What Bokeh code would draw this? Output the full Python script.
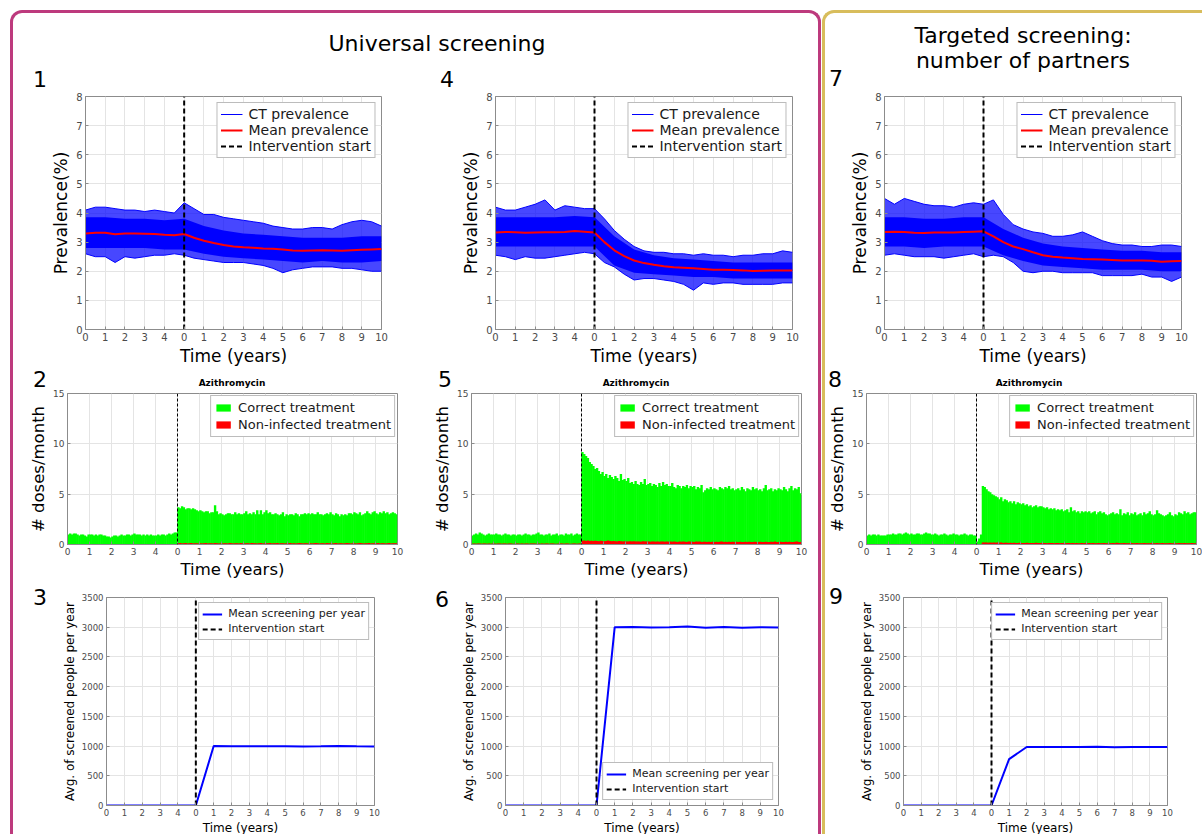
from bokeh.plotting import figure
from bokeh.models import Range1d, FixedTicker, Span, Legend, LegendItem, Div
from bokeh.layouts import row, column
from bokeh.embed import file_html
from bokeh.resources import INLINE

FONT = "DejaVu Sans"
AX = "#8c8c8c"
TL = "#4a4a4a"
GRID = "#e4e4e4"
BLUE = "#0000ff"
RED = "#ff0000"
GREEN = "#00ff00"
MAGENTA = "#bd3a7d"
GOLD = "#d8bd5c"

# ---------------- data ----------------
tick_pos = [-5, -4, -3, -2, -1, 0, 1, 2, 3, 4, 5, 6, 7, 8, 9, 10]
tick_labels = ["0", "1", "2", "3", "4", "0", "1", "2", "3", "4", "5", "6", "7", "8", "9", "10"]
intervention_t = 0

# prevalence panels: time grid (half years) and yearly grid
t_half = [-5, -4.5, -4, -3.5, -3, -2.5, -2, -1.5, -1, -0.5, 0, 0.5, 1, 1.5, 2, 2.5,
          3, 3.5, 4, 4.5, 5, 5.5, 6, 6.5, 7, 7.5, 8, 8.5, 9, 9.5, 10]
t_year = [-5, -4, -3, -2, -1, 0, 1, 2, 3, 4, 5, 6, 7, 8, 9, 10]

prev1_mean = [3.30, 3.32, 3.32, 3.27, 3.30, 3.30, 3.29, 3.28, 3.25, 3.24, 3.28, 3.15, 3.05, 2.97, 2.90, 2.85,
              2.82, 2.81, 2.78, 2.77, 2.75, 2.71, 2.70, 2.71, 2.72, 2.71, 2.70, 2.72, 2.74, 2.75, 2.76]
prev1_max = [4.10, 4.20, 4.20, 4.15, 4.10, 4.10, 4.05, 4.10, 4.05, 4.00, 4.35, 4.15, 3.95, 3.95, 3.85, 3.80,
             3.75, 3.70, 3.65, 3.55, 3.50, 3.45, 3.45, 3.50, 3.50, 3.45, 3.60, 3.70, 3.75, 3.70, 3.55]
prev1_min = [2.60, 2.50, 2.50, 2.30, 2.50, 2.45, 2.50, 2.55, 2.55, 2.60, 2.55, 2.45, 2.40, 2.35, 2.30, 2.30,
             2.30, 2.25, 2.20, 2.10, 1.95, 2.05, 2.10, 2.15, 2.15, 2.15, 2.10, 2.10, 2.05, 2.00, 2.00]
prev1_hi = [3.85, 3.85, 3.80, 3.80, 3.75, 3.80, 3.55, 3.40, 3.30, 3.25, 3.20, 3.15, 3.15, 3.15, 3.20, 3.20]
prev1_lo = [2.80, 2.80, 2.80, 2.80, 2.75, 2.75, 2.60, 2.50, 2.45, 2.40, 2.35, 2.30, 2.35, 2.30, 2.30, 2.35]

prev4_mean = [3.33, 3.35, 3.34, 3.32, 3.33, 3.34, 3.34, 3.35, 3.38, 3.36, 3.33, 3.00, 2.72, 2.52, 2.37, 2.28,
              2.22, 2.17, 2.14, 2.12, 2.10, 2.08, 2.05, 2.05, 2.04, 2.03, 2.01, 2.02, 2.03, 2.03, 2.03]
prev4_max = [4.20, 4.10, 4.10, 4.20, 4.30, 4.45, 4.10, 4.25, 4.20, 4.15, 4.15, 3.80, 3.40, 3.10, 2.85, 2.70,
             2.65, 2.65, 2.60, 2.60, 2.55, 2.60, 2.55, 2.55, 2.50, 2.55, 2.55, 2.60, 2.60, 2.70, 2.65]
prev4_min = [2.55, 2.50, 2.40, 2.50, 2.45, 2.45, 2.50, 2.55, 2.60, 2.65, 2.60, 2.30, 2.15, 1.90, 1.70, 1.75,
             1.75, 1.70, 1.65, 1.55, 1.35, 1.60, 1.55, 1.60, 1.60, 1.55, 1.55, 1.55, 1.55, 1.60, 1.60]
prev4_hi = [3.85, 3.85, 3.85, 3.85, 3.90, 3.85, 3.20, 2.75, 2.55, 2.45, 2.40, 2.35, 2.30, 2.30, 2.30, 2.30]
prev4_lo = [2.85, 2.85, 2.85, 2.85, 2.85, 2.85, 2.20, 1.95, 1.90, 1.85, 1.80, 1.80, 1.75, 1.75, 1.75, 1.75]

prev7_mean = [3.35, 3.36, 3.35, 3.32, 3.31, 3.33, 3.33, 3.33, 3.35, 3.36, 3.37, 3.20, 3.00, 2.85, 2.76, 2.65,
              2.55, 2.50, 2.47, 2.45, 2.42, 2.41, 2.40, 2.39, 2.37, 2.37, 2.37, 2.36, 2.33, 2.34, 2.35]
prev7_max = [4.50, 4.30, 4.50, 4.40, 4.30, 4.25, 4.25, 4.20, 4.30, 4.35, 4.30, 4.45, 3.95, 3.60, 3.45, 3.35,
             3.30, 3.20, 3.20, 3.25, 3.35, 3.20, 3.05, 2.95, 2.90, 2.90, 2.85, 2.85, 2.90, 2.90, 2.85]
prev7_min = [2.55, 2.60, 2.55, 2.50, 2.50, 2.50, 2.45, 2.50, 2.55, 2.60, 2.50, 2.55, 2.50, 2.30, 2.00, 1.95,
             2.00, 2.00, 1.95, 1.95, 1.95, 1.95, 1.85, 1.85, 1.85, 1.85, 1.90, 1.80, 1.80, 1.65, 1.80]
prev7_hi = [3.85, 3.85, 3.80, 3.80, 3.85, 3.85, 3.45, 3.15, 2.95, 2.85, 2.80, 2.75, 2.70, 2.70, 2.65, 2.65]
prev7_lo = [2.85, 2.85, 2.80, 2.85, 2.85, 2.85, 2.55, 2.35, 2.20, 2.15, 2.10, 2.05, 2.05, 2.05, 2.00, 2.00]

# azithromycin doses per month (60 months before, 120 months after intervention)
months = [-5 + (i + 0.5) / 12 for i in range(180)]

dose2_correct = [
    1.0, 1.1, 1.0, 1.1, 1.1, 1.0, 0.9, 1.0, 1.0, 0.9, 0.8, 1.0,
    1.0, 1.0, 0.9, 1.0, 0.9, 1.0, 1.0, 0.9, 0.9, 0.8, 0.8, 0.7,
    0.8, 0.9, 0.9, 0.8, 0.9, 1.0, 0.9, 0.9, 1.0, 1.0, 0.9, 1.0,
    1.1, 1.0, 1.0, 1.0, 0.9, 1.0, 0.9, 1.0, 0.9, 1.0, 0.9, 0.9,
    0.9, 1.0, 0.9, 1.0, 1.0, 0.9, 1.0, 1.1, 1.0, 1.1, 1.2, 1.2,
    3.7, 3.6, 3.8, 3.7, 3.5, 3.6, 3.6, 3.5, 3.6, 3.5, 3.4, 3.3,
    3.4, 3.3, 3.2, 3.3, 3.3, 3.1, 3.2, 3.2, 3.9, 3.3, 3.0, 3.1,
    3.0, 2.9, 3.0, 3.1, 3.1, 3.0, 3.0, 3.2, 3.0, 3.1, 3.0, 3.0,
    3.1, 3.3, 3.0, 3.1, 3.0, 3.2, 3.0, 3.4, 3.0, 3.4, 3.0, 3.2,
    3.4, 3.1, 3.2, 3.0, 3.0, 3.1, 3.0, 2.9, 3.0, 3.2, 2.8, 3.0,
    2.9, 3.0, 3.0, 2.9, 3.1, 3.0, 2.8, 3.0, 3.0, 3.1, 3.0, 3.1,
    3.0, 3.1, 3.0, 3.0, 3.2, 3.0, 3.0, 2.9, 3.0, 3.1, 3.0, 3.2,
    3.0, 2.9, 3.1, 3.0, 2.8, 3.0, 2.9, 3.0, 2.9, 3.1, 3.1, 3.0,
    3.2, 3.1, 3.0, 3.2, 2.9, 3.0, 3.1, 3.3, 3.1, 3.0, 3.2, 3.3,
    3.1, 3.0, 3.2, 3.1, 3.3, 3.1, 3.2, 3.0, 3.1, 3.2, 3.1, 3.0]
dose2_noninf = [
    0.03, 0.02, 0.04, 0.03, 0.02, 0.03, 0.05, 0.03, 0.02, 0.03, 0.04, 0.02,
    0.03, 0.04, 0.02, 0.03, 0.03, 0.02, 0.04, 0.03, 0.02, 0.03, 0.05, 0.03,
    0.02, 0.03, 0.04, 0.03, 0.02, 0.03, 0.03, 0.04, 0.02, 0.03, 0.05, 0.03,
    0.04, 0.02, 0.03, 0.03, 0.02, 0.04, 0.03, 0.02, 0.03, 0.04, 0.03, 0.02,
    0.03, 0.02, 0.04, 0.03, 0.03, 0.02, 0.04, 0.03, 0.02, 0.03, 0.04, 0.03,
    0.12, 0.14, 0.10, 0.13, 0.15, 0.11, 0.12, 0.14, 0.10, 0.13, 0.12, 0.11,
    0.13, 0.10, 0.12, 0.14, 0.11, 0.13, 0.12, 0.10, 0.14, 0.12, 0.11, 0.13,
    0.10, 0.12, 0.13, 0.11, 0.14, 0.12, 0.10, 0.13, 0.12, 0.11, 0.15, 0.12,
    0.11, 0.13, 0.12, 0.10, 0.14, 0.12, 0.13, 0.11, 0.12, 0.14, 0.10, 0.12,
    0.13, 0.12, 0.15, 0.11, 0.13, 0.12, 0.14, 0.10, 0.12, 0.13, 0.11, 0.12,
    0.12, 0.14, 0.11, 0.13, 0.10, 0.12, 0.14, 0.12, 0.11, 0.13, 0.12, 0.10,
    0.13, 0.11, 0.12, 0.14, 0.12, 0.10, 0.13, 0.12, 0.11, 0.14, 0.12, 0.13,
    0.11, 0.12, 0.14, 0.10, 0.12, 0.13, 0.11, 0.12, 0.14, 0.12, 0.10, 0.13,
    0.12, 0.11, 0.13, 0.15, 0.12, 0.10, 0.13, 0.12, 0.14, 0.11, 0.12, 0.13,
    0.12, 0.14, 0.11, 0.12, 0.13, 0.10, 0.12, 0.14, 0.11, 0.13, 0.12, 0.12]

dose5_correct = [
    0.9, 1.0, 1.1, 1.0, 1.2, 1.1, 1.0, 0.9, 1.0, 1.1, 1.0, 1.0,
    1.0, 1.1, 1.0, 1.0, 0.9, 1.0, 1.1, 1.0, 1.0, 0.9, 1.0, 1.0,
    0.9, 1.0, 1.0, 0.9, 1.0, 1.1, 1.0, 1.0, 0.9, 1.0, 1.0, 1.1,
    1.2, 1.0, 1.0, 0.9, 1.0, 1.0, 1.1, 0.9, 1.0, 1.0, 1.1, 0.9,
    1.0, 1.0, 0.9, 1.1, 1.0, 1.0, 1.1, 0.9, 1.0, 1.1, 1.0, 1.0,
    9.2, 9.0, 8.8, 8.6, 8.2, 8.0, 7.8, 7.5, 7.6, 7.3, 7.0, 7.2,
    6.8, 7.0, 6.6, 6.9, 6.7, 6.5, 6.8, 6.6, 6.3, 7.0, 6.4, 6.5,
    6.3, 6.6, 6.1, 6.2, 6.0, 6.3, 6.0, 5.9, 6.2, 6.0, 6.5, 5.9,
    6.0, 6.1, 5.8, 6.0, 5.9, 5.7, 6.1, 5.8, 6.2, 5.9, 6.0, 5.8,
    5.8, 6.1, 5.7, 5.6, 5.9, 5.8, 5.6, 5.8, 5.7, 5.9, 5.6, 5.8,
    5.7, 5.8, 5.5, 5.7, 5.6, 5.9, 5.2, 5.4, 5.6, 5.5, 5.7, 5.5,
    5.6, 5.5, 5.4, 5.7, 5.6, 5.5, 5.7, 5.6, 5.8, 5.5, 5.6, 5.4,
    5.5, 5.6, 5.4, 5.7, 5.5, 5.3, 5.6, 5.5, 5.4, 5.7, 5.5, 5.6,
    5.4, 5.5, 5.3, 5.6, 5.9, 5.4, 5.5, 5.6, 5.3, 5.5, 5.4, 5.6,
    5.5, 5.4, 5.7, 5.5, 5.3, 5.6, 5.8, 5.4, 5.6, 5.5, 5.7, 5.1]
dose5_noninf = [
    0.08, 0.10, 0.07, 0.09, 0.11, 0.08, 0.10, 0.09, 0.07, 0.10, 0.08, 0.09,
    0.10, 0.08, 0.09, 0.11, 0.07, 0.09, 0.10, 0.08, 0.09, 0.10, 0.08, 0.07,
    0.09, 0.10, 0.08, 0.09, 0.07, 0.10, 0.09, 0.08, 0.10, 0.09, 0.11, 0.08,
    0.09, 0.08, 0.10, 0.07, 0.09, 0.10, 0.08, 0.09, 0.10, 0.08, 0.07, 0.09,
    0.10, 0.09, 0.08, 0.10, 0.09, 0.07, 0.08, 0.10, 0.09, 0.08, 0.10, 0.09,
    0.38, 0.40, 0.36, 0.39, 0.35, 0.37, 0.34, 0.38, 0.36, 0.33, 0.37, 0.35,
    0.33, 0.36, 0.40, 0.34, 0.32, 0.35, 0.33, 0.31, 0.34, 0.32, 0.30, 0.33,
    0.31, 0.29, 0.32, 0.30, 0.33, 0.29, 0.31, 0.30, 0.28, 0.32, 0.30, 0.29,
    0.30, 0.28, 0.31, 0.29, 0.27, 0.30, 0.28, 0.31, 0.29, 0.27, 0.30, 0.28,
    0.29, 0.27, 0.30, 0.28, 0.26, 0.29, 0.27, 0.30, 0.28, 0.26, 0.29, 0.27,
    0.28, 0.26, 0.29, 0.27, 0.30, 0.26, 0.28, 0.27, 0.25, 0.28, 0.26, 0.27,
    0.26, 0.28, 0.25, 0.27, 0.29, 0.26, 0.28, 0.25, 0.27, 0.26, 0.28, 0.25,
    0.27, 0.25, 0.28, 0.26, 0.24, 0.27, 0.25, 0.28, 0.26, 0.25, 0.27, 0.26,
    0.25, 0.27, 0.26, 0.24, 0.28, 0.26, 0.25, 0.27, 0.25, 0.29, 0.26, 0.25,
    0.27, 0.25, 0.26, 0.28, 0.25, 0.27, 0.26, 0.24, 0.27, 0.30, 0.26, 0.25]

dose8_correct = [
    0.9, 1.0, 0.9, 1.0, 1.0, 0.9, 1.0, 0.9, 0.9, 0.9, 0.9, 1.0,
    1.0, 1.0, 1.1, 1.0, 1.0, 1.1, 1.1, 1.0, 1.1, 1.2, 1.1, 1.0,
    1.1, 1.0, 1.0, 1.1, 1.1, 1.0, 1.0, 1.1, 1.2, 1.1, 1.1, 1.0,
    1.0, 1.1, 1.0, 0.9, 1.0, 1.0, 1.1, 1.0, 0.9, 1.0, 1.0, 1.1,
    1.0, 1.0, 0.9, 1.0, 1.0, 1.1, 1.0, 0.9, 1.0, 1.0, 0.9, 0.9,
    0.3, 0.6, 1.0, 5.8, 5.7, 5.5, 5.3, 5.2, 5.0, 4.9, 4.8, 4.7,
    4.5, 4.7, 4.3, 4.5, 4.4, 4.2, 4.3, 4.1, 4.3, 4.0, 4.2, 4.1,
    4.0, 4.1, 3.9, 4.0, 3.8, 3.9, 3.7, 3.8, 3.9, 3.7, 3.8, 3.8,
    3.7, 3.6, 3.7, 3.5, 3.6, 3.5, 3.6, 3.4, 3.5, 3.4, 3.5, 3.3,
    3.4, 3.5, 3.2, 3.7, 3.3, 3.4, 3.2, 3.3, 3.1, 3.3, 3.2, 3.3,
    3.2, 3.3, 3.1, 3.2, 3.3, 3.0, 3.2, 3.3, 3.1, 3.2, 3.0, 2.9,
    3.0, 3.1, 3.2, 3.0, 3.1, 3.0, 3.5, 2.9, 3.1, 3.0, 3.2, 2.9,
    3.1, 3.0, 3.2, 2.9, 3.0, 3.1, 2.9, 3.2, 3.0, 3.1, 3.3, 3.0,
    2.9, 3.0, 3.4, 3.1, 3.0, 2.9, 2.8, 2.9, 3.0, 3.2, 2.9, 2.8,
    3.0, 2.9, 3.2, 3.1, 3.0, 3.3, 3.1, 3.2, 3.0, 3.1, 3.2, 3.2]
dose8_noninf = [
    0.03, 0.04, 0.02, 0.03, 0.05, 0.03, 0.02, 0.04, 0.03, 0.02, 0.03, 0.04,
    0.03, 0.02, 0.04, 0.03, 0.03, 0.05, 0.02, 0.03, 0.04, 0.03, 0.02, 0.03,
    0.04, 0.03, 0.02, 0.03, 0.04, 0.02, 0.03, 0.05, 0.03, 0.02, 0.04, 0.03,
    0.02, 0.03, 0.04, 0.03, 0.02, 0.03, 0.05, 0.03, 0.02, 0.04, 0.03, 0.02,
    0.03, 0.04, 0.02, 0.03, 0.03, 0.05, 0.03, 0.02, 0.04, 0.03, 0.02, 0.03,
    0.02, 0.03, 0.05, 0.20, 0.19, 0.21, 0.18, 0.20, 0.17, 0.19, 0.18, 0.20,
    0.17, 0.19, 0.16, 0.18, 0.17, 0.15, 0.18, 0.16, 0.17, 0.15, 0.16, 0.18,
    0.15, 0.16, 0.14, 0.17, 0.15, 0.16, 0.14, 0.15, 0.17, 0.14, 0.15, 0.16,
    0.14, 0.15, 0.13, 0.16, 0.14, 0.15, 0.13, 0.14, 0.16, 0.13, 0.14, 0.15,
    0.13, 0.15, 0.14, 0.12, 0.15, 0.13, 0.14, 0.12, 0.13, 0.15, 0.13, 0.14,
    0.12, 0.14, 0.13, 0.15, 0.12, 0.13, 0.14, 0.12, 0.13, 0.14, 0.12, 0.13,
    0.13, 0.12, 0.14, 0.13, 0.17, 0.14, 0.12, 0.13, 0.14, 0.12, 0.13, 0.12,
    0.14, 0.12, 0.13, 0.15, 0.12, 0.13, 0.12, 0.14, 0.13, 0.12, 0.13, 0.14,
    0.12, 0.13, 0.14, 0.12, 0.13, 0.15, 0.12, 0.13, 0.12, 0.14, 0.13, 0.12,
    0.13, 0.12, 0.14, 0.13, 0.12, 0.14, 0.13, 0.12, 0.13, 0.14, 0.12, 0.13]

# mean number of screened people per year
screen_t = [-5, -4, -3, -2, -1, 0, 1, 2, 3, 4, 5, 6, 7, 8, 9, 10]
screen3 = [0, 0, 0, 0, 0, 0, 1000, 995, 995, 995, 995, 993, 995, 1003, 995, 993]
screen6 = [0, 0, 0, 0, 0, 0, 3000, 3003, 2995, 2998, 3010, 2993, 3005, 2990, 3000, 2995]
screen9 = [0, 0, 0, 0, 0, 0, 780, 985, 983, 985, 985, 987, 980, 985, 985, 985]


# ---------------- helpers ----------------
def base_fig(bl, fw, br, bt, fh, bb, ymax, yticks, tick_fs, label_fs, ylabel):
    p = figure(frame_width=fw, frame_height=fh, min_border_left=bl, min_border_right=br,
               min_border_top=bt, min_border_bottom=bb,
               x_range=Range1d(-5, 10), y_range=Range1d(0, ymax),
               output_backend="svg", toolbar_location=None, tools="")
    if "frame_align" in p.properties():
        p.frame_align = False
    p.border_fill_color = "white"
    p.background_fill_color = "white"
    p.outline_line_color = AX
    p.outline_line_width = 1
    p.xaxis.ticker = FixedTicker(ticks=tick_pos)
    p.xaxis.major_label_overrides = {tp: tl for tp, tl in zip(tick_pos, tick_labels)}
    p.yaxis.ticker = FixedTicker(ticks=yticks)
    p.xgrid.ticker = FixedTicker(ticks=tick_pos)
    p.ygrid.ticker = FixedTicker(ticks=yticks)
    for g in (p.xgrid[0], p.ygrid[0]):
        g.grid_line_color = GRID
        g.grid_line_width = 1
    for ax in (p.xaxis[0], p.yaxis[0]):
        ax.axis_line_color = AX
        ax.major_tick_line_color = AX
        ax.major_tick_in = 3
        ax.major_tick_out = 0
        ax.minor_tick_line_color = None
        ax.major_label_text_font = FONT
        ax.major_label_text_font_size = tick_fs
        ax.major_label_text_color = TL
        ax.axis_label_text_font = FONT
        ax.axis_label_text_font_size = label_fs
        ax.axis_label_text_font_style = "normal"
        ax.axis_label_text_color = "#000000"
        ax.major_label_standoff = 3
        ax.axis_label_standoff = 2
    p.xaxis.axis_label = "Time (years)"
    p.yaxis.axis_label = ylabel
    return p


def header(width, height, spans):
    inner = "".join(
        f'<span style="position:absolute;left:{x}px;top:{top}px;transform:translateX(-50%);'
        f'font-size:{fs}px;line-height:{fs}px;font-weight:{fw};white-space:nowrap;">{txt}</span>'
        for txt, x, top, fs, fw in spans)
    return Div(text=f'<div style="position:relative;width:{width}px;height:{height}px;'
                    f'font-family:\'DejaVu Sans\';color:#000;">{inner}</div>',
               width=width, height=height, margin=0)


def style_legend(leg, fs, gw, gh, lh, margin):
    leg.label_text_font = FONT
    leg.label_text_font_size = fs
    leg.label_text_color = "#1a1a1a"
    leg.glyph_width = gw
    leg.glyph_height = gh
    leg.label_height = lh
    leg.spacing = 0
    leg.padding = 3
    leg.margin = margin
    leg.label_standoff = 6
    leg.border_line_color = "#7a7a7a"
    leg.border_line_width = 1
    leg.background_fill_alpha = 1


def prevalence_panel(bl, fw, br, mean, vmax, vmin, hi, lo):
    p = base_fig(bl, fw, br, 6, 233, 39, 8, [0, 1, 2, 3, 4, 5, 6, 7, 8], "10px", "17px", "Prevalence(%)")
    p.varea(x=t_half, y1=vmin, y2=vmax, fill_color=BLUE, fill_alpha=0.72)
    p.varea(x=t_year, y1=lo, y2=hi, fill_color=BLUE, fill_alpha=1.0)
    r_ct = p.line(t_half, vmax, line_color=BLUE, line_width=1)
    p.line(t_half, vmin, line_color=BLUE, line_width=1)
    r_mean = p.line(t_half, mean, line_color=RED, line_width=2)
    r_iv = p.line([intervention_t, intervention_t], [0, 8], line_color="black", line_width=2, line_dash="5 3")
    leg = Legend(items=[LegendItem(label="CT prevalence", renderers=[r_ct]),
                        LegendItem(label="Mean prevalence", renderers=[r_mean]),
                        LegendItem(label="Intervention start", renderers=[r_iv])],
                 location="top_right")
    style_legend(leg, "14px", 22, 14, 15, 6)
    p.add_layout(leg)
    return p


def dose_panel(bl, fw, br, correct, noninf):
    p = base_fig(bl, fw, br, 5, 151, 38, 15, [0, 5, 10, 15], "9px", "16.5px", "# doses/month")
    w = 1.3 / 12
    r_g = p.vbar(x=months, top=correct, width=w, fill_color=GREEN, line_color=None)
    r_r = p.vbar(x=months, top=noninf, width=w, fill_color=RED, line_color=None)
    p.add_layout(Span(location=intervention_t, dimension="height", line_color="black",
                      line_width=1, line_dash="3 2"))
    leg = Legend(items=[LegendItem(label="Correct treatment", renderers=[r_g]),
                        LegendItem(label="Non-infected treatment", renderers=[r_r])],
                 location="top_right")
    style_legend(leg, "13px", 18, 9, 17, 2)
    p.add_layout(leg)
    return p


def screen_panel(bl, fw, br, values, loc):
    p = base_fig(bl, fw, br, 15, 208, 28, 3500, [0, 500, 1000, 1500, 2000, 2500, 3000, 3500],
                 "8.5px", "12px", "Avg. of screened people per year")
    r_m = p.line(screen_t, values, line_color=BLUE, line_width=2)
    r_iv = p.line([intervention_t, intervention_t], [0, 3500], line_color="black", line_width=2, line_dash="5 3")
    leg = Legend(items=[LegendItem(label="Mean screening per year", renderers=[r_m]),
                        LegendItem(label="Intervention start", renderers=[r_iv])],
                 location=loc)
    style_legend(leg, "11px", 20, 12, 15, 5)
    p.add_layout(leg)
    return p


# ---------------- panels ----------------
p1 = prevalence_panel(72, 296, 39, prev1_mean, prev1_max, prev1_min, prev1_hi, prev1_lo)
p4 = prevalence_panel(75, 297, 26, prev4_mean, prev4_max, prev4_min, prev4_hi, prev4_lo)
p7 = prevalence_panel(59, 297, 19, prev7_mean, prev7_max, prev7_min, prev7_hi, prev7_lo)

p2 = dose_panel(54, 330, 23, dose2_correct, dose2_noninf)
p5 = dose_panel(51, 330, 17, dose5_correct, dose5_noninf)
p8 = dose_panel(39, 330, 6, dose8_correct, dose8_noninf)

p3 = screen_panel(54, 268, 46, screen3, "top_right")
p6 = screen_panel(52, 273, 40, screen6, "bottom_right")
p9 = screen_panel(53, 264, 33, screen9, "top_right")

c1 = column(header(407, 28, [("1", 27, 7, 22, 400)]), p1)
c4 = column(header(398, 28, [("4", 27, 7, 22, 400)]), p4)
c7 = column(header(375, 20, [("7", 11, -2, 22, 400)]), p7)

c2 = column(header(407, 20, [("2", 27, 1, 22, 400), ("Azithromycin", 219, 11, 9, 700)]), p2)
c5 = column(header(398, 20, [("5", 25, 1, 22, 400), ("Azithromycin", 216, 11, 9, 700)]), p5)
c8 = column(header(375, 20, [("8", 10, 1, 22, 400), ("Azithromycin", 204, 11, 9, 700)]), p8)

c3 = row(header(39, 251, [("3", 27, 5, 22, 400)]), p3)
c6 = row(header(33, 251, [("6", 22, 7, 22, 400)]), p6)
c9 = row(header(25, 251, [("9", 11, 4, 22, 400)]), p9)

title_left = Div(text='<div style="padding-left:43px;padding-top:18px;text-align:center;'
                      'font-family:\'DejaVu Sans\';font-size:22px;line-height:26px;color:#000;'
                      'width:762px;">Universal screening</div>',
                 width=805, height=49, margin=0)
title_right = Div(text='<div style="padding-left:21px;padding-top:10px;text-align:center;'
                       'font-family:\'DejaVu Sans\';font-size:22px;line-height:25px;color:#000;'
                       'width:354px;">Targeted screening:<br>number of partners</div>',
                  width=375, height=57, margin=0)

left_box = column(title_left, row(c1, c4), row(c2, c5), row(c3, c6),
                  margin=(10, 0, 0, 10),
                  styles={"border-top": f"3px solid {MAGENTA}", "border-left": f"3px solid {MAGENTA}",
                          "border-right": f"3px solid {MAGENTA}", "border-radius": "12px 12px 0 0",
                          "box-sizing": "content-box"})
right_box = column(title_right, c7, c8, c9,
                   margin=(10, 0, 0, 1),
                   styles={"border-top": f"3px solid {GOLD}", "border-left": f"3px solid {GOLD}",
                           "border-radius": "12px 0 0 0", "box-sizing": "content-box"})
page = row(left_box, right_box)

open("out.html", "w").write(file_html(page, INLINE))
